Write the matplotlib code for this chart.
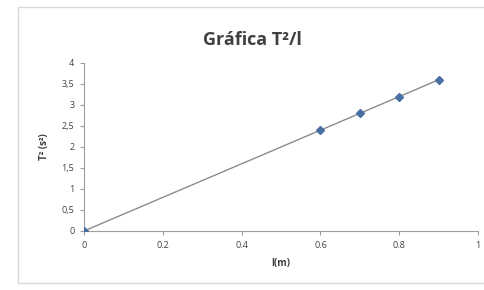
import matplotlib
matplotlib.use("Agg")
import matplotlib.pyplot as plt
from matplotlib.patches import Rectangle

# -------------------- DATA --------------------
length_m = [0, 0.6, 0.7, 0.8, 0.9]
period_sq = [0, 2.4, 2.8, 3.2, 3.6]
x_ticks = [0, 0.2, 0.4, 0.6, 0.8, 1]
x_labels = ["0", "0.2", "0.4", "0.6", "0.8", "1"]
y_ticks = [0, 0.5, 1, 1.5, 2, 2.5, 3, 3.5, 4]
y_labels = ["0", "0,5", "1", "1,5", "2", "2,5", "3", "3,5", "4"]
# ----------------------------------------------

plt.rcParams['font.family'] = ['Open Sans', 'DejaVu Sans']

fig = plt.figure(figsize=(4.84, 2.90), dpi=100)
# chart area border
fig.patches.append(Rectangle((18 / 484, 7 / 290), 1.0, 276 / 290,
                             transform=fig.transFigure, fill=False,
                             edgecolor="#d9d9d9", linewidth=1.0))

ax = fig.add_axes([84 / 484, 59 / 290, 394 / 484, 168 / 290])

ax.plot(length_m, period_sq, color="#8c8c8c", linewidth=1.0, zorder=2)
ax.plot(length_m, period_sq, linestyle="none", marker="D", markersize=4.5,
        color="#4a6fa5", zorder=3)

ax.set_xlim(0, 1)
ax.set_ylim(0, 4)
ax.set_xticks(x_ticks)
ax.set_xticklabels(x_labels)
ax.set_yticks(y_ticks)
ax.set_yticklabels(y_labels)

for side in ["top", "right"]:
    ax.spines[side].set_visible(False)
for side in ["left", "bottom"]:
    ax.spines[side].set_color("#9e9e9e")
    ax.spines[side].set_linewidth(0.8)
ax.tick_params(axis="both", colors="#9e9e9e", labelcolor="#404040",
               labelsize=6.5, length=3, width=0.8, pad=4)

ax.set_xlabel("l(m)", fontsize=7, fontweight="bold", color="#404040", labelpad=6)
ax.set_ylabel("T² (s²)", fontsize=7, fontweight="bold", color="#404040", labelpad=8)

fig.text(252 / 484, 1 - 40 / 290, "Gráfica T²/l", ha="center", va="center",
         fontsize=13, fontweight="bold", color="#404040")

fig.savefig("out.png", dpi=100)
